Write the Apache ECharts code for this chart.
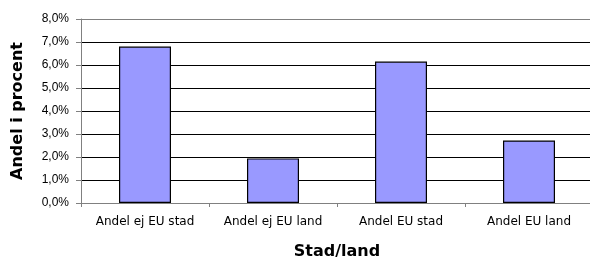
<!DOCTYPE html>
<html>
<head>
<meta charset="utf-8">
<script src="https://cdn.jsdelivr.net/npm/echarts@6/dist/echarts.min.js"></script>
<style>
html, body { margin: 0; padding: 0; background: #fff; }
#chart { width: 590px; height: 257px; }
</style>
</head>
<body>
<div id="chart"></div>
<script>
// kategorier och andelar (procent)
var categories = ['Andel ej EU stad', 'Andel ej EU land', 'Andel EU stad', 'Andel EU land'];
var shares = [6.8, 1.94, 6.15, 2.72];
var yTicks = [0, 1, 2, 3, 4, 5, 6, 7, 8];

var myChart = echarts.init(document.getElementById('chart'));
var option = {
    animation: false,
    textStyle: { fontFamily: 'Liberation Sans, Arial, sans-serif' },
    grid: {
        top: 19,
        left: 81,
        right: -3,
        bottom: 54,
        outerBoundsMode: 'none'
    },
    xAxis: {
        type: 'category',
        data: categories,
        name: 'Stad/land',
        nameLocation: 'middle',
        nameGap: 41,
        nameTextStyle: { fontFamily: 'DejaVu Sans', fontSize: 16, fontWeight: 'bold', color: '#000' },
        axisLine: { lineStyle: { color: '#808080', width: 1 } },
        axisTick: { show: true, length: 4, lineStyle: { color: '#808080' } },
        axisLabel: { fontFamily: 'DejaVu Sans', color: '#000', fontSize: 12, margin: 13, interval: 0, hideOverlap: false }
    },
    yAxis: {
        type: 'value',
        min: yTicks[0],
        max: yTicks[yTicks.length - 1],
        interval: 1,
        name: 'Andel i procent',
        nameLocation: 'middle',
        nameGap: 55,
        nameTextStyle: { fontFamily: 'DejaVu Sans', fontSize: 16, fontWeight: 'bold', color: '#000' },
        axisLine: { show: true, lineStyle: { color: '#808080', width: 1 } },
        axisTick: { show: true, length: 5, lineStyle: { color: '#808080' } },
        axisLabel: {
            color: '#000',
            fontSize: 12,
            margin: 12,
            formatter: function (v) { return v.toFixed(1).replace('.', ',') + '%'; }
        },
        splitLine: {
            show: true,
            lineStyle: {
                color: ['#000', '#000', '#000', '#000', '#000', '#000', '#000', '#000', '#808080'],
                width: 1
            }
        }
    },
    series: [
        {
            name: 'Andel',
            type: 'bar',
            data: shares,
            barWidth: 52,
            itemStyle: {
                color: '#9999ff',
                borderColor: '#000',
                borderWidth: 1.2
            }
        }
    ]
};
myChart.setOption(option);
</script>
</body>
</html>
